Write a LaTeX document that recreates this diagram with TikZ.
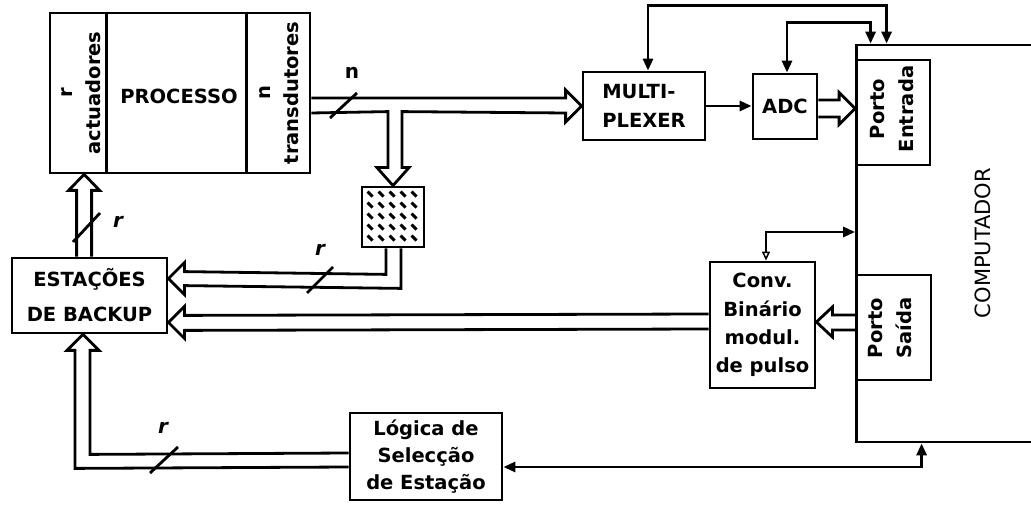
\documentclass[tikz,border=0pt]{standalone}
\usepackage{fontspec}
\setmainfont{DejaVu Sans}
\usetikzlibrary{arrows.meta,calc}
\begin{document}
\begin{tikzpicture}[x=1pt,y=-1pt,line width=2.8pt,
  blk/.style={draw, rectangle, inner sep=0pt, line width=2.8pt},
  txt/.style={font=\fontsize{19.5}{29}\selectfont\bfseries, align=center, inner sep=0pt},
  bus/.style={line width=2.8pt, line join=miter},
  ctl/.style={line width=2.8pt},
  arr/.style={-{Triangle[length=12pt,width=10pt]}},
  arrs/.style={{Triangle[length=12pt,width=10pt]}-{Triangle[length=12pt,width=10pt]}},
  lbl/.style={font=\fontsize{20}{22}\selectfont\bfseries, inner sep=0pt},
  slash/.style={line width=2.8pt}]
\useasboundingbox (0,0) rectangle (1031,510);

% computer (right side open beyond the page)
\node[blk, minimum width=189.5pt, minimum height=397pt] (comp) at (951.25,243.5) {};
\node[font=\fontsize{21}{24}\selectfont, rotate=90, inner sep=0pt] (compt) at (983,243) {COMPUTADOR};

% process
\node[blk, minimum width=260pt, minimum height=160pt] (proc) at (180,93) {};
\draw[line width=2.8pt] ($(proc.north west)+(58,0)$) -- ($(proc.south west)+(58,0)$);
\draw[line width=2.8pt] ($(proc.north west)+(198,0)$) -- ($(proc.south west)+(198,0)$);
\node[txt] (proct) at (179,96) {PROCESSO};
\node[txt, rotate=90, font=\fontsize{19.5}{28}\selectfont\bfseries] (act) at (81,93) {r\\actuadores};
\node[txt, rotate=90, font=\fontsize{19.5}{28}\selectfont\bfseries] (trd) at (279,93) {n\\transdutores};

% other blocks
\node[blk, txt, align=left, minimum width=122pt, minimum height=68pt] (mux) at (644,106) {MULTI-\\PLEXER};
\node[blk, txt, minimum width=64pt, minimum height=65pt] (adc) at (785,106.5) {ADC};
\node[blk, fill=white, minimum width=73.5pt, minimum height=105pt] (ent) at (893.25,112.5) {};
\node[txt, rotate=90] (entt) at (892,109) {Porto\\Entrada};
\node[blk, fill=white, minimum width=74.5pt, minimum height=105pt] (saida) at (893.75,327.5) {};
\node[txt, rotate=90] (saidat) at (890,328) {Porto\\Saída};
\node[blk, minimum width=62pt, minimum height=60pt] (hatch) at (393,217) {};
\foreach \i in {0,...,4}
  \foreach \j in {0,...,4}
    \draw[line width=3pt] ($(hatch.north west)+(7+11*\j,6+11*\i)$) -- ++(5,5);
\node[blk, txt, font=\fontsize{19.5}{35}\selectfont\bfseries, minimum width=155pt, minimum height=75pt] (est) at (89.5,295.5) {ESTAÇÕES\\DE BACKUP};
\node[blk, txt, font=\fontsize{19.5}{28.3}\selectfont\bfseries, minimum width=105pt, minimum height=126pt] (conv) at (762.5,325) {Conv.\\Binário\\modul.\\de pulso};
\node[blk, txt, font=\fontsize{19.5}{27}\selectfont\bfseries, minimum width=152pt, minimum height=87pt] (logica) at (426,456.5) {Lógica de\\Selecção\\de Estação};

% bus: process -> multiplexer, with branch to hatched block
\draw[bus] ($(proc.east)+(0,5)$) -- ($(mux.west)+(-16,-8)$) -- ($(mux.west)+(-16,-16)$) -- (mux.west)
  -- ($(mux.west)+(-16,16)$) -- ($(mux.west)+(-16,7)$) -- ($(hatch.north)+(9,-74)$)
  -- ($(hatch.north)+(9,-18)$) -- ($(hatch.north)+(16,-18)$) -- (hatch.north)
  -- ($(hatch.north)+(-16,-18)$) -- ($(hatch.north)+(-5,-18)$) -- ($(hatch.north)+(-5,-74)$)
  -- ($(proc.east)+(0,20)$);
\draw[slash] (330,118) -- (357,93);
\node[lbl] (nlbl) at (352,73) {n};

% bus: hatched block -> backup stations
\draw[bus] ($(hatch.south)+(-7,0)$) -- ($(hatch.south)+(-7,26)$) -- ($(est.north east)+(16,15)$)
  -- ($(est.north east)+(16,6)$) -- ($(est.north east)+(0,22)$) -- ($(est.north east)+(16,38)$)
  -- ($(est.north east)+(16,29)$) -- ($(hatch.south)+(8,40)$) -- ($(hatch.south)+(8,0)$);
\draw[slash] (307,293) -- (333,267);
\node[lbl, font=\fontsize{20}{22}\selectfont\bfseries\itshape] (r2) at (320,250) {r};

% bus: converter -> backup stations
\draw[bus] ($(conv.west)+(0,-11)$) -- ($(est.south east)+(16,-19)$) -- ($(est.south east)+(16,-28)$)
  -- ($(est.south east)+(0,-12)$) -- ($(est.south east)+(16,4)$) -- ($(est.south east)+(16,-4)$)
  -- ($(conv.west)+(0,4)$);

% bus: porto saida -> converter
\draw[bus] ($(saida.west)+(0,-12.5)$) -- ($(conv.east)+(16,-10)$) -- ($(conv.east)+(16,-18)$)
  -- ($(conv.east)+(0,-3)$) -- ($(conv.east)+(16,12)$) -- ($(conv.east)+(16,5)$)
  -- ($(saida.west)+(0,2.5)$);

% bus: ADC -> porto entrada
\draw[bus] ($(adc.east)+(0,-6.5)$) -- ($(ent.west)+(-16,-12.5)$) -- ($(ent.west)+(-16,-20)$)
  -- ($(ent.west)+(0,-4)$) -- ($(ent.west)+(-16,12)$) -- ($(ent.west)+(-16,4.5)$)
  -- ($(adc.east)+(0,10.5)$);

% bus: backup stations -> process
\draw[bus] ($(est.north west)+(66,0)$) -- ($(proc.south west)+(28,16)$) -- ($(proc.south west)+(20,16)$)
  -- ($(proc.south west)+(35.5,0)$) -- ($(proc.south west)+(51,16)$) -- ($(proc.south west)+(43,16)$)
  -- ($(est.north west)+(81,0)$);
\draw[slash] (73,242) -- (100,213);
\node[lbl, font=\fontsize{20}{22}\selectfont\bfseries\itshape] (r1) at (118,222) {r};

% bus: selection logic -> backup stations
\draw[bus] ($(logica.west)+(0,-3.5)$) -- ($(est.south)+(0.5,120)$) -- ($(est.south)+(0.5,16)$)
  -- ($(est.south)+(9.5,16)$) -- ($(est.south)+(-6.5,0)$) -- ($(est.south)+(-22.5,16)$)
  -- ($(est.south)+(-14.5,16)$) -- ($(est.south)+(-14.5,134)$) -- ($(logica.west)+(0,10.5)$);
\draw[slash] (150,473) -- (178,447);
\node[lbl, font=\fontsize{20}{22}\selectfont\bfseries\itshape] (r3) at (163,428) {r};

% control lines
\draw[ctl, arr] (mux.east) -- (mux.east -| adc.west);
\draw[ctl, arrs] ($(comp.north west)+(31.5,0)$) -- ++(0,-38) -| ($(mux.north)+(4,0)$);
\draw[ctl, arrs] ($(comp.north west)+(15.5,0)$) -- ++(0,-21) -| ($(adc.north)+(2,0)$);
\draw[ctl, {Triangle[open,length=9pt,width=8pt,line width=1.5pt]}-{Triangle[length=12pt,width=10pt]}]
  ($(conv.north)+(3.5,0)$) |- ($(comp.west)+(0,-11.5)$);
\draw[ctl, arrs] ($(comp.south west)+(66.5,0)$) |- ($(logica.east)+(0,10.5)$);
\end{tikzpicture}
\end{document}
